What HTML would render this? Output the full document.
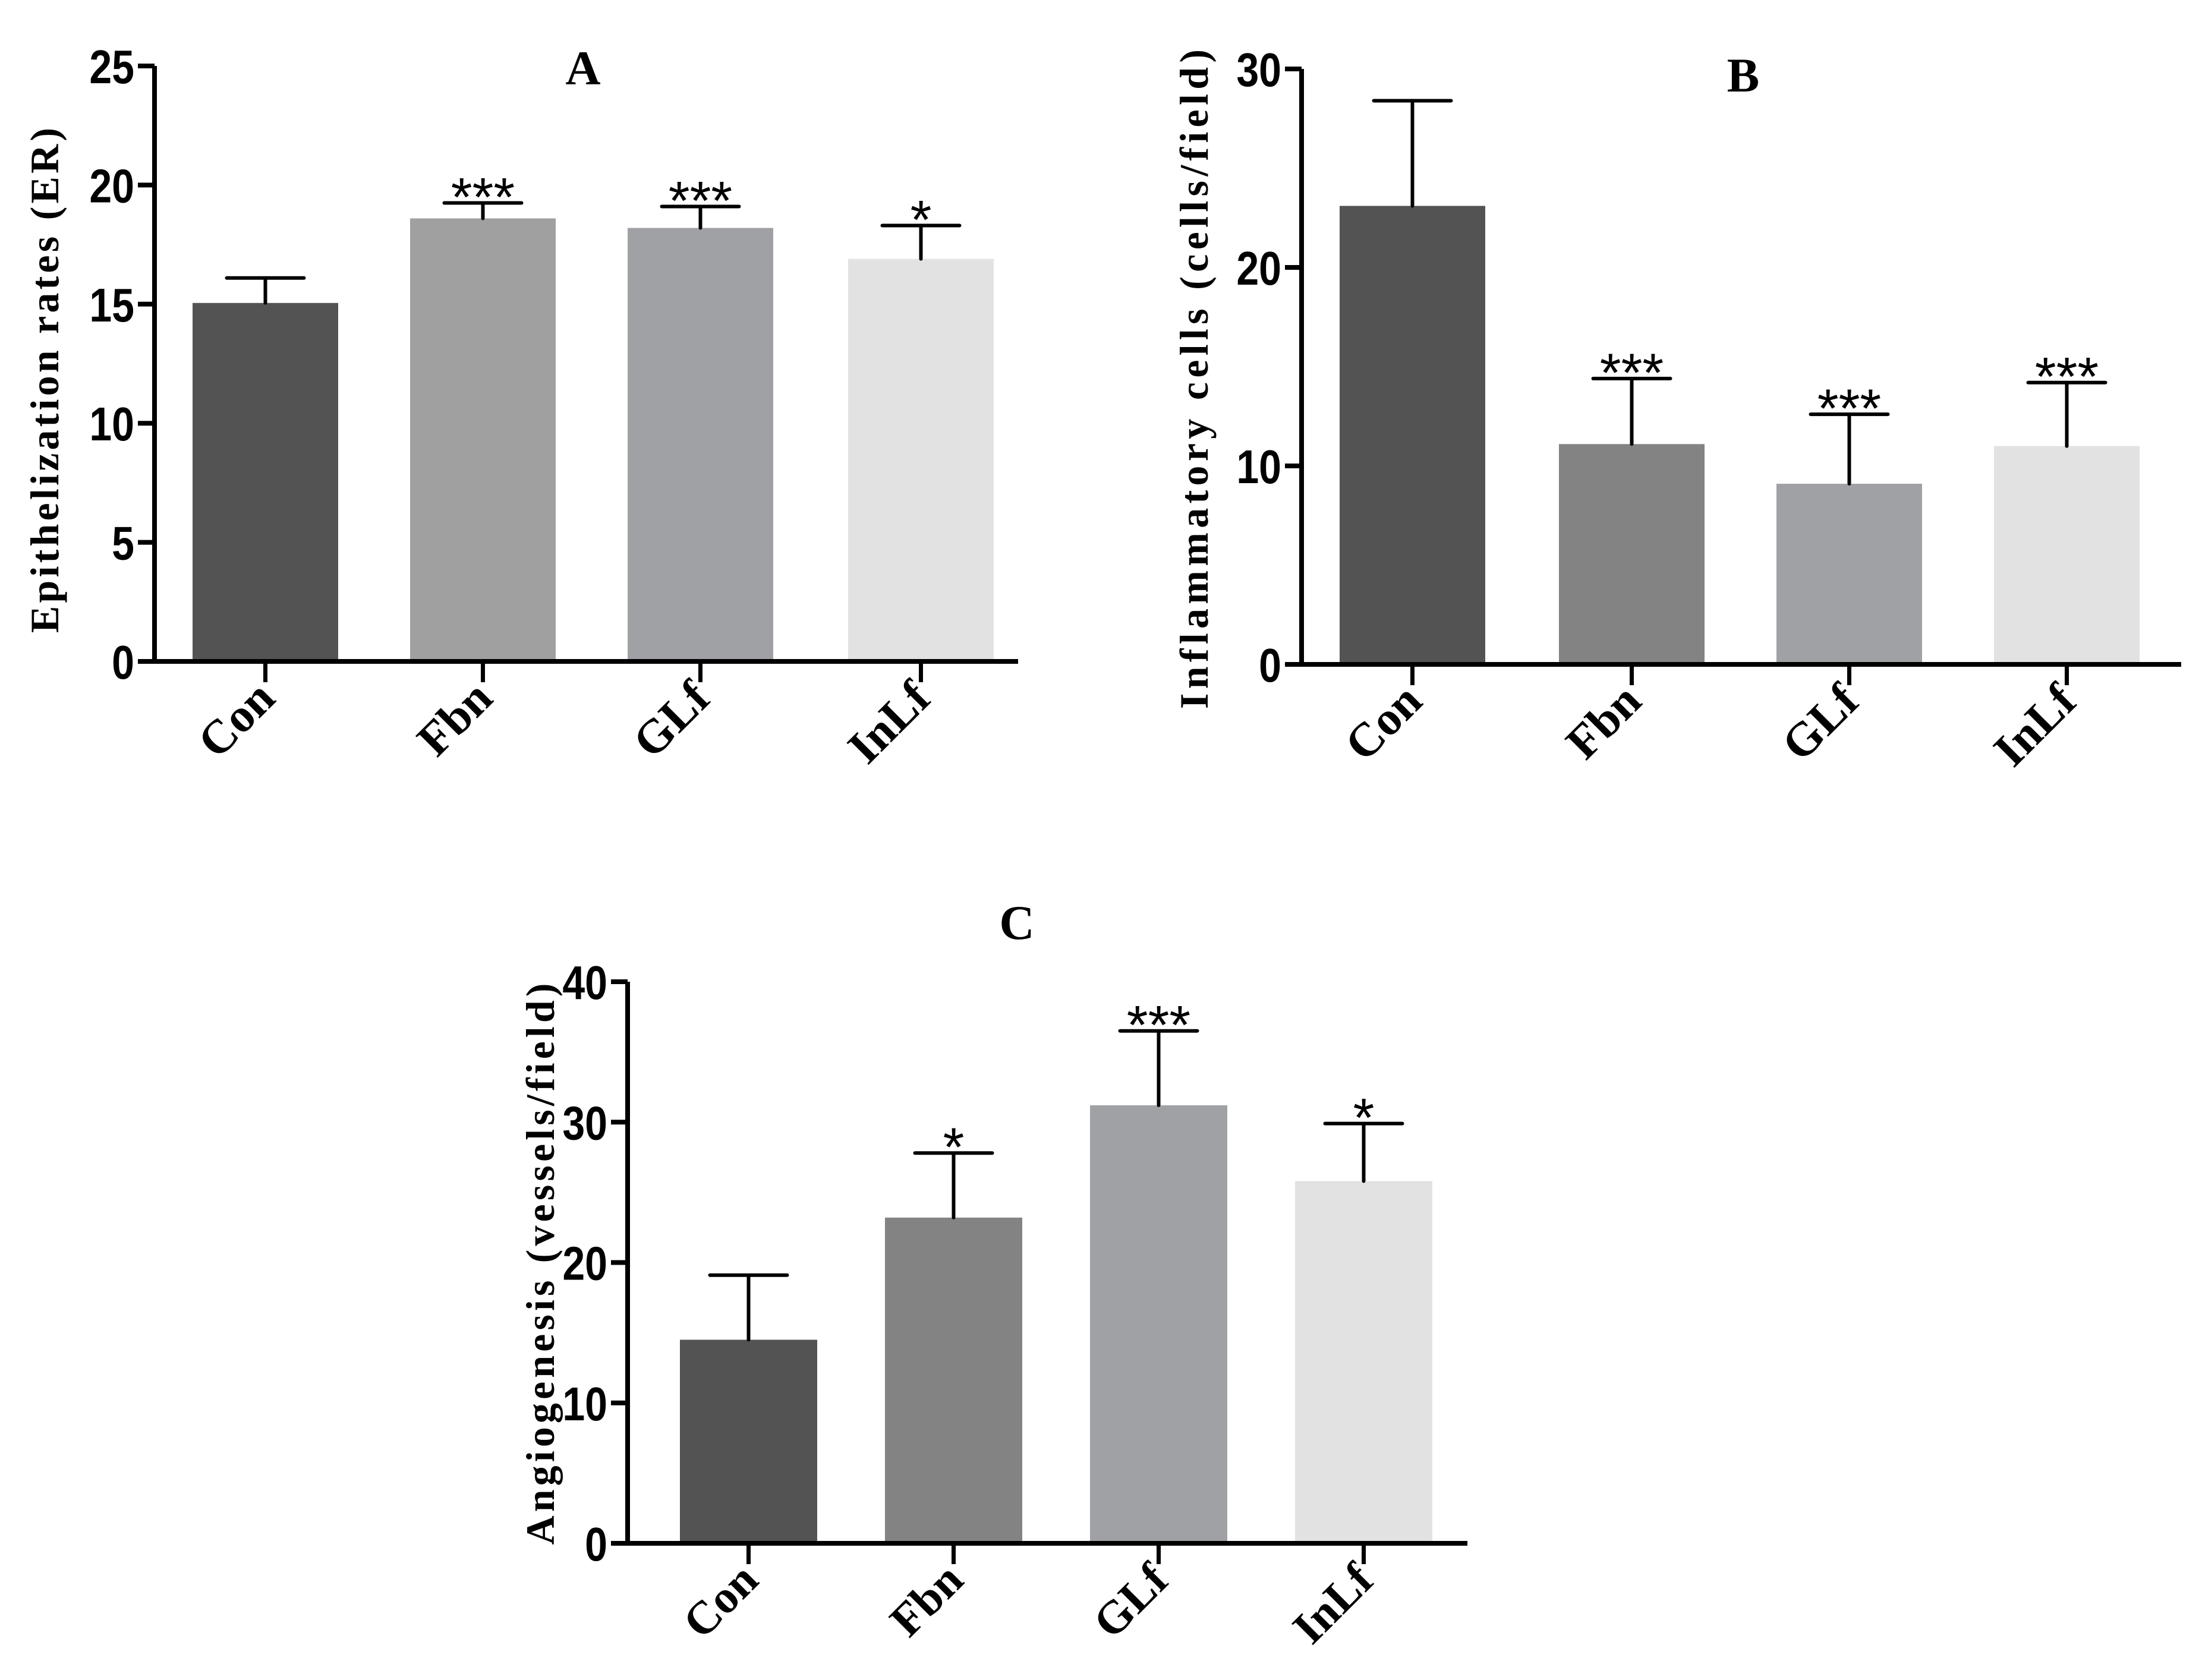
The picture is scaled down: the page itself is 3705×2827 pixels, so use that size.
<!DOCTYPE html>
<html><head><meta charset="utf-8"><style>
html,body{margin:0;padding:0;background:#fff}
svg{display:block}
</style></head><body>
<svg id="fig" xmlns="http://www.w3.org/2000/svg" width="3705" height="2827" viewBox="0 0 3705 2827">
<rect width="3705" height="2827" fill="#fff"/>
</svg>
<script>
const categories = ["Con","Fbn","GLf","InLf"];
const valuesA = [15.05, 18.6, 18.2, 16.9];
const errTopA = [16.1, 19.25, 19.1, 18.3];
const starsA = ["", "***", "***", "*"];
const ticksA = [0,5,10,15,20,25];
const valuesB = [23.1, 11.1, 9.1, 11.0];
const errTopB = [28.4, 14.4, 12.6, 14.2];
const starsB = ["", "***", "***", "***"];
const ticksB = [0,10,20,30];
const valuesC = [14.5, 23.2, 31.2, 25.8];
const errTopC = [19.1, 27.8, 36.5, 29.9];
const starsC = ["", "*", "***", "*"];
const ticksC = [0,10,20,30,40];

const NS = "http://www.w3.org/2000/svg";
const svg = document.getElementById('fig');
function el(tag, attrs, parent, text){
  const e = document.createElementNS(NS, tag);
  for (const k in attrs) e.setAttribute(k, attrs[k]);
  if (text !== undefined) e.textContent = text;
  (parent||svg).appendChild(e);
  return e;
}

function panel(cfg){
  const g = el('g', {});
  
  
  const ymax = cfg.ticks[cfg.ticks.length-1];
  const yS = v => cfg.y0 - (v/ymax)*(cfg.y0-cfg.yTop);
  cfg.values.forEach((v,i)=>{
    const x0 = cfg.barX[i], w = cfg.barW;
    const bar = el('rect', {x:x0, y:yS(v), width:w, height:cfg.y0-yS(v), fill:cfg.colors[i]}, g);
    
    
    const cx = x0 + w/2, et = yS(cfg.err[i]);
    const eb = el('path', {d:`M${cx} ${yS(v)} V${et} M${cx-65} ${et} H${cx+65}`, stroke:'#000','stroke-width':6,'stroke-linecap':'round',fill:'none'}, g);
    
    
    if (cfg.stars[i]) {
      const s = el('text', {x:cx, y:et+22, 'text-anchor':'middle','font-family':'Liberation Sans, sans-serif','font-size':92}, g, cfg.stars[i]);
      
      
    }
    el('line', {x1:cx, y1:cfg.y0, x2:cx, y2:cfg.y0+35, stroke:'#000','stroke-width':7}, g);
    const lx = cx+20, ly = cfg.y0+66;
    const lab = el('text', {x:lx, y:ly, transform:`rotate(-45 ${lx} ${ly})`, 'text-anchor':'end','font-family':'Liberation Serif, serif','font-weight':'bold','font-size':cfg.catFs}, g, categories[i]);
    
    
  });
  const ax = el('path', {d:`M${cfg.x0} ${cfg.yTop} V${cfg.y0} H${cfg.xEnd}`, stroke:'#000','stroke-width':8,fill:'none'}, g);
  
  
  cfg.ticks.forEach(t=>{
    const y = yS(t);
    el('line', {x1:cfg.x0-28, y1:y, x2:cfg.x0, y2:y, stroke:'#000','stroke-width':8}, g);
    const tl = el('text', {x:0, y:0, transform:`translate(${cfg.x0-34} ${y+29}) scale(0.85 1)`, 'text-anchor':'end','font-family':'Liberation Sans, sans-serif','font-weight':'bold','font-size':80}, g, String(t));
    
    
  });
  const yt = el('text', {x:0, y:0, transform:`translate(${cfg.ytX} ${cfg.ytY}) rotate(-90)`, 'text-anchor':'middle','font-family':'Liberation Serif, serif','font-weight':'bold','font-size':68, textLength:cfg.ytLen, lengthAdjust:'spacing'}, g, cfg.ytitle);
  
  
  const tt = el('text', {x:cfg.tX, y:cfg.tY, 'text-anchor':'middle','font-family':'Liberation Serif, serif','font-weight':'bold','font-size':82}, g, cfg.title);
  
  
}

panel({name:'panel-a', x0:260, xEnd:1713, y0:1113, yTop:111, ticks:ticksA, values:valuesA, err:errTopA, stars:starsA,
  barX:[324,690,1056,1427], barW:245, colors:['#535353','#a0a0a0','#a0a1a5','#e2e2e2'],
  catFs:80, ytitle:'Epithelization rates (ER)', ytX:98, ytY:640, ytLen:850, title:'A', tX:981, tY:142});
panel({name:'panel-b', x0:2190, xEnd:3670, y0:1118, yTop:116, ticks:ticksB, values:valuesB, err:errTopB, stars:starsB,
  barX:[2254,2623,2989,3355], barW:245, colors:['#535353','#838383','#a0a1a5','#e2e2e2'],
  catFs:80, ytitle:'Inflammatory cells (cells/field)', ytX:2032, ytY:638, ytLen:1110, title:'B', tX:2933, tY:154});
panel({name:'panel-c', x0:1056, xEnd:2469, y0:2597, yTop:1652, ticks:ticksC, values:valuesC, err:errTopC, stars:starsC,
  barX:[1144,1489,1834,2179], barW:231, colors:['#535353','#838383','#a0a1a5','#e2e2e2'],
  catFs:78, ytitle:'Angiogenesis (vessels/field)', ytX:932, ytY:2127, ytLen:945, title:'C', tX:1711, tY:1580});
</script>
</body></html>
